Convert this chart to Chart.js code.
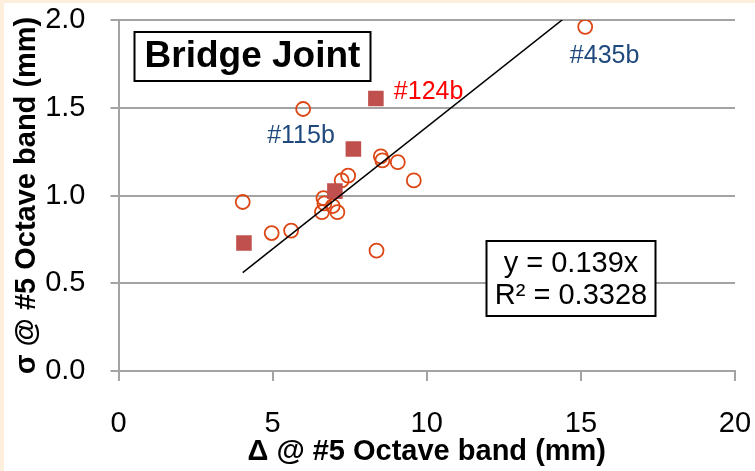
<!DOCTYPE html>
<html>
<head>
<meta charset="utf-8">
<script src="https://cdn.jsdelivr.net/npm/chart.js@4/dist/chart.umd.min.js"></script>
<style>
  html, body { margin: 0; padding: 0; background: #fdefdb; }
  #wrap { width: 755px; height: 471px; }
  canvas { display: block; }
</style>
</head>
<body>
<div id="wrap"><canvas id="chart" width="755" height="471"></canvas></div>
<script>
// Joints measured in the #5 octave band: displacement Δ vs. deviation σ (both mm)
const deltaOpen  = [4.03, 4.97, 5.60, 5.99, 6.65, 6.68, 6.60, 6.95, 7.10, 7.24, 7.45, 8.51, 8.56, 9.06, 9.58, 8.37, 15.14];
const sigmaOpen  = [0.963, 0.786, 0.800, 1.493, 0.985, 0.955, 0.905, 0.940, 0.905, 1.086, 1.113, 1.223, 1.200, 1.190, 1.086, 0.686, 1.961];
const deltaFilled = [4.07, 7.02, 7.62, 8.35];
const sigmaFilled = [0.729, 1.025, 1.265, 1.553];

// Linear fit through the origin
const trendSlope = 0.139;
const trendR2 = 0.3328;

const xTicks = [0, 5, 10, 15, 20];
const yTicks = [0.0, 0.5, 1.0, 1.5, 2.0];

const chartTitle = 'Bridge Joint';
const xTitle = 'Δ @ #5 Octave band (mm)';
const yTitle = 'σ @ #5 Octave band (mm)';
const tagNames = ['#115b', '#124b', '#435b'];

const FONT = "'Liberation Sans', Arial, sans-serif";
const GRID = '#a3a3a3';

const openPts = deltaOpen.map((x, i) => ({ x, y: sigmaOpen[i] }));
const filledPts = deltaFilled.map((x, i) => ({ x, y: sigmaFilled[i] }));
const allX = deltaOpen.concat(deltaFilled);
const xLo = Math.min(...allX), xHi = Math.max(...allX);
const trendPts = [xLo, xHi].map(x => ({ x, y: trendSlope * x }));

// Tag placement (data coordinates) and colours
const tagStyle = [
  { at: [5.92, 1.338], color: '#1f497d' },
  { at: [10.06, 1.589], color: '#ff0000' },
  { at: [15.77, 1.797], color: '#1f497d' }
];

// keep the plot area fixed: no extra room for overhanging tick labels
const noOverhang = s => { s.paddingTop = 0; s.paddingBottom = 0; s.paddingLeft = 0; s.paddingRight = 0; };

const frame = {
  id: 'frame',
  beforeDraw(chart) {
    const ctx = chart.ctx;
    ctx.save();
    ctx.fillStyle = '#fdefdb';
    ctx.fillRect(0, 0, chart.width, chart.height);
    ctx.fillStyle = '#ffffff';
    ctx.fillRect(4, 3, chart.width - 4, chart.height - 3);
    ctx.restore();
  }
};

const notes = {
  id: 'notes',
  afterDraw(chart) {
    const ctx = chart.ctx;
    const xs = chart.scales.x, ys = chart.scales.y;
    ctx.save();
    ctx.textAlign = 'center';
    ctx.textBaseline = 'middle';

    // title box
    ctx.fillStyle = '#ffffff';
    ctx.fillRect(134.5, 32, 236, 49);
    ctx.strokeStyle = '#000000';
    ctx.lineWidth = 2;
    ctx.strokeRect(134.5, 32, 236, 49);
    ctx.fillStyle = '#000000';
    ctx.font = 'bold 37px ' + FONT;
    ctx.fillText(chartTitle, 252.5, 57);

    // equation box
    ctx.fillStyle = '#ffffff';
    ctx.fillRect(486.5, 241, 169, 75);
    ctx.strokeRect(486.5, 241, 169, 75);
    ctx.fillStyle = '#000000';
    ctx.font = '29px ' + FONT;
    ctx.fillText('y = ' + trendSlope.toFixed(3) + 'x', 571, 264);
    ctx.fillText('R² = ' + trendR2.toFixed(4), 571, 296);

    // point tags
    ctx.font = '25px ' + FONT;
    tagNames.forEach((t, i) => {
      const s = tagStyle[i];
      ctx.fillStyle = s.color;
      ctx.fillText(t, xs.getPixelForValue(s.at[0]), ys.getPixelForValue(s.at[1]));
    });
    ctx.restore();
  }
};

new Chart(document.getElementById('chart'), {
  type: 'scatter',
  data: {
    datasets: [
      {
        type: 'line',
        data: trendPts,
        borderColor: '#000000',
        borderWidth: 1.5,
        pointRadius: 0,
        fill: false,
        order: 0
      },
      {
        data: filledPts,
        pointStyle: 'rect',
        pointRadius: 11,
        backgroundColor: '#c0504d',
        borderWidth: 0,
        order: 1
      },
      {
        data: openPts,
        pointStyle: 'circle',
        pointRadius: 7,
        backgroundColor: 'rgba(255,255,255,0)',
        borderColor: '#dc4614',
        borderWidth: 1.8,
        order: 2
      }
    ]
  },
  options: {
    responsive: false,
    devicePixelRatio: 1,
    animation: false,
    layout: { padding: { top: 20, right: 20, left: 0, bottom: 0 } },
    plugins: { legend: { display: false }, tooltip: { enabled: false } },
    scales: {
      x: {
        type: 'linear',
        min: xTicks[0],
        max: xTicks[xTicks.length - 1],
        afterBuildTicks: s => { s.ticks = xTicks.map(v => ({ value: v })); },
        afterFit: s => { s.height = 100; noOverhang(s); },
        grid: { drawOnChartArea: false, drawTicks: true, tickLength: 10, color: GRID, lineWidth: 2 },
        border: { display: true, color: GRID, width: 2 },
        ticks: { color: '#000', font: { family: FONT, size: 29 }, padding: 26, maxRotation: 0 },
        title: { display: true, text: xTitle, color: '#000', font: { family: FONT, size: 29, weight: 'bold' }, padding: { top: 0, bottom: 2 } }
      },
      y: {
        type: 'linear',
        min: yTicks[0],
        max: yTicks[yTicks.length - 1],
        afterBuildTicks: s => { s.ticks = yTicks.map(v => ({ value: v })); },
        afterFit: s => { s.width = 118.5; noOverhang(s); },
        grid: { drawTicks: true, tickLength: 8, color: GRID, lineWidth: 2 },
        border: { display: true, color: GRID, width: 2 },
        ticks: { color: '#000', font: { family: FONT, size: 29 }, padding: 25, callback: v => v.toFixed(1) },
        title: { display: true, text: yTitle, color: '#000', font: { family: FONT, size: 29, weight: 'bold' }, padding: { top: 10, bottom: 0 } }
      }
    }
  },
  plugins: [frame, notes]
});
</script>
</body>
</html>
